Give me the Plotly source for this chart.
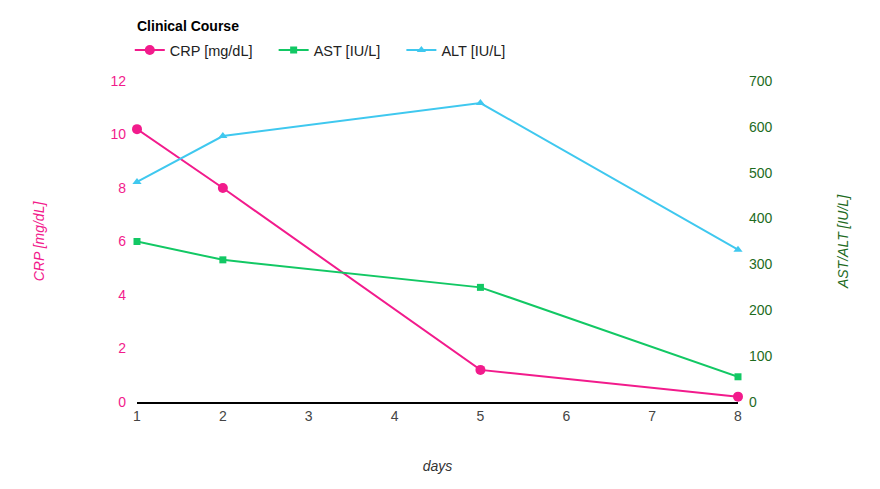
import plotly.graph_objects as go

days = [1, 2, 5, 8]
crp = [10.2, 8.0, 1.2, 0.2]
ast = [350, 310, 250, 55]
alt = [480, 580, 652, 332]

pink = "#f21b8c"
green = "#12c864"
blue = "#3fc8ef"
dark_green = "#1e6b1e"

pad = "&nbsp;" * 4  # extra gap between legend items

fig = go.Figure()
fig.add_trace(go.Scatter(x=days, y=crp, mode="lines+markers", name="CRP [mg/dL]" + pad,
                         line=dict(color=pink, width=2), marker=dict(symbol="circle", size=10),
                         cliponaxis=False))
fig.add_trace(go.Scatter(x=days, y=ast, mode="lines+markers", name="AST [IU/L]" + pad, yaxis="y2",
                         line=dict(color=green, width=2), marker=dict(symbol="square", size=7),
                         cliponaxis=False))
fig.add_trace(go.Scatter(x=days, y=alt, mode="lines+markers", name="ALT [IU/L]", yaxis="y2",
                         line=dict(color=blue, width=2), marker=dict(symbol="triangle-up", size=8),
                         cliponaxis=False))

fig.update_layout(
    width=880, height=489,
    margin=dict(l=129, r=150, t=73, b=95),
    paper_bgcolor="white", plot_bgcolor="white",
    font=dict(family="Liberation Sans, Arial, sans-serif", size=14, color="#444"),
    title=dict(text="<b>Clinical Course</b>", x=129/880, xanchor="left", y=1-18/489, yanchor="middle",
               font=dict(size=14, color="black")),
    legend=dict(orientation="h", x=-0.012, xanchor="left", y=1+31/321, yanchor="middle",
                font=dict(size=14.5, color="#222"), tracegroupgap=0),
    xaxis=dict(range=[1, 8], tickvals=list(range(1, 9)), showgrid=False, zeroline=False,
               showline=True, linecolor="black", linewidth=1.5, ticks="",
               title=dict(text="<i>days</i>", standoff=39, font=dict(size=14, color="#333")),
               tickfont=dict(size=14, color="#444")),
    yaxis=dict(range=[0, 12], dtick=2, showgrid=False, zeroline=False, ticks="",
               ticklabelstandoff=10,
               tickfont=dict(size=14, color=pink),
               title=dict(text="<i>CRP [mg/dL]</i>", standoff=62, font=dict(size=14, color=pink))),
    yaxis2=dict(range=[0, 700], dtick=100, overlaying="y", side="right", showgrid=False,
                zeroline=False, ticks="", ticklabelstandoff=10,
                tickfont=dict(size=14, color=dark_green),
                title=dict(text="<i>AST/ALT [IU/L]</i>", standoff=66, font=dict(size=14, color=dark_green))),
)

fig.write_html("out.html")
